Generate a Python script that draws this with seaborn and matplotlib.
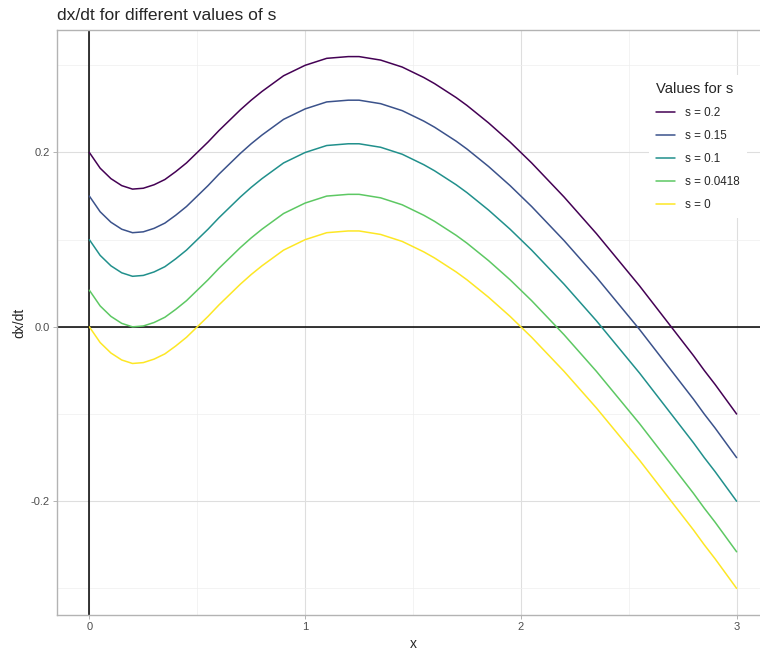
import pandas as pd
import matplotlib.pyplot as plt
import seaborn as sns
from matplotlib.ticker import MultipleLocator

# values (x step 0.05)
x_vals = [0.00, 0.05, 0.10, 0.15, 0.20, 0.25, 0.30, 0.35, 0.40, 0.45,
          0.50, 0.55, 0.60, 0.65, 0.70, 0.75, 0.80, 0.85, 0.90, 0.95,
          1.00, 1.05, 1.10, 1.15, 1.20, 1.25, 1.30, 1.35, 1.40, 1.45,
          1.50, 1.55, 1.60, 1.65, 1.70, 1.75, 1.80, 1.85, 1.90, 1.95,
          2.00, 2.05, 2.10, 2.15, 2.20, 2.25, 2.30, 2.35, 2.40, 2.45,
          2.50, 2.55, 2.60, 2.65, 2.70, 2.75, 2.80, 2.85, 2.90, 2.95, 3.00]
s_02 = [0.200, 0.182, 0.170, 0.162, 0.158, 0.159, 0.163, 0.169, 0.178, 0.188,
        0.200, 0.212, 0.225, 0.237, 0.249, 0.260, 0.270, 0.279, 0.288, 0.294,
        0.300, 0.304, 0.308, 0.309, 0.310, 0.310, 0.308, 0.306, 0.302, 0.298,
        0.292, 0.286, 0.279, 0.271, 0.263, 0.254, 0.244, 0.234, 0.223, 0.212,
        0.200, 0.188, 0.175, 0.162, 0.149, 0.135, 0.121, 0.107, 0.092, 0.077,
        0.062, 0.047, 0.031, 0.015, -0.001, -0.017, -0.033, -0.050, -0.066, -0.083, -0.100]
s_015 = [0.150, 0.132, 0.120, 0.112, 0.108, 0.109, 0.113, 0.119, 0.128, 0.138,
         0.150, 0.162, 0.175, 0.187, 0.199, 0.210, 0.220, 0.229, 0.238, 0.244,
         0.250, 0.254, 0.258, 0.259, 0.260, 0.260, 0.258, 0.256, 0.252, 0.248,
         0.242, 0.236, 0.229, 0.221, 0.213, 0.204, 0.194, 0.184, 0.173, 0.162,
         0.150, 0.138, 0.125, 0.112, 0.099, 0.085, 0.071, 0.057, 0.042, 0.027,
         0.012, -0.003, -0.019, -0.035, -0.051, -0.067, -0.083, -0.100, -0.116, -0.133, -0.150]
s_01 = [0.100, 0.082, 0.070, 0.062, 0.058, 0.059, 0.063, 0.069, 0.078, 0.088,
        0.100, 0.112, 0.125, 0.137, 0.149, 0.160, 0.170, 0.179, 0.188, 0.194,
        0.200, 0.204, 0.208, 0.209, 0.210, 0.210, 0.208, 0.206, 0.202, 0.198,
        0.192, 0.186, 0.179, 0.171, 0.163, 0.154, 0.144, 0.134, 0.123, 0.112,
        0.100, 0.088, 0.075, 0.062, 0.049, 0.035, 0.021, 0.007, -0.008, -0.023,
        -0.038, -0.053, -0.069, -0.085, -0.101, -0.117, -0.133, -0.150, -0.166, -0.183, -0.200]
s_00418 = [0.042, 0.024, 0.012, 0.004, 0.000, 0.001, 0.005, 0.011, 0.020, 0.030,
           0.042, 0.054, 0.067, 0.079, 0.091, 0.102, 0.112, 0.121, 0.130, 0.136,
           0.142, 0.146, 0.150, 0.151, 0.152, 0.152, 0.150, 0.148, 0.144, 0.140,
           0.134, 0.128, 0.121, 0.113, 0.105, 0.096, 0.086, 0.076, 0.065, 0.054,
           0.042, 0.030, 0.017, 0.004, -0.009, -0.023, -0.037, -0.051, -0.066, -0.081,
           -0.096, -0.111, -0.127, -0.143, -0.159, -0.175, -0.191, -0.208, -0.224, -0.241, -0.258]
s_0 = [0.000, -0.018, -0.030, -0.038, -0.042, -0.041, -0.037, -0.031, -0.022, -0.012,
       0.000, 0.012, 0.025, 0.037, 0.049, 0.060, 0.070, 0.079, 0.088, 0.094,
       0.100, 0.104, 0.108, 0.109, 0.110, 0.110, 0.108, 0.106, 0.102, 0.098,
       0.092, 0.086, 0.079, 0.071, 0.063, 0.054, 0.044, 0.034, 0.023, 0.012,
       0.000, -0.012, -0.025, -0.038, -0.051, -0.065, -0.079, -0.093, -0.108, -0.123,
       -0.138, -0.153, -0.169, -0.185, -0.201, -0.217, -0.233, -0.250, -0.266, -0.283, -0.300]

labels = ["s = 0.2", "s = 0.15", "s = 0.1", "s = 0.0418", "s = 0"]
series = [s_02, s_015, s_01, s_00418, s_0]
colors = ["#440154", "#3B528B", "#21908C", "#5DC863", "#FDE725"]

df = pd.concat(
    [pd.DataFrame({"x": x_vals, "dxdt": ys, "s": lab}) for lab, ys in zip(labels, series)]
)

sns.set_style("white")
plt.rcParams["font.family"] = ["Liberation Sans", "DejaVu Sans"]
plt.rcParams["axes.unicode_minus"] = False

fig = plt.figure(figsize=(7.6, 6.53), dpi=100)
ax = fig.add_axes([57 / 760, 38 / 653, 712 / 760, 585 / 653])

ax.xaxis.set_major_locator(MultipleLocator(1))
ax.xaxis.set_minor_locator(MultipleLocator(0.5))
ax.yaxis.set_major_locator(MultipleLocator(0.2))
ax.yaxis.set_minor_locator(MultipleLocator(0.1))
ax.grid(which="major", color="#DEDEDE", lw=0.8, zorder=0)
ax.grid(which="minor", color="#EEEEEE", lw=0.5, zorder=0)
ax.set_axisbelow(True)

ax.axhline(0, color="black", lw=1.1, zorder=1)
ax.axvline(0, color="black", lw=1.1, zorder=1)

sns.lineplot(data=df, x="x", y="dxdt", hue="s", hue_order=labels,
             palette=colors, lw=1.1, ax=ax, sort=False, zorder=2)

ax.set_xlim(-0.15, 3.15)
ax.set_ylim(-0.3305, 0.3405)
ax.set_xticks([0, 1, 2, 3])
ax.set_xticklabels(["0", "1", "2", "3"])
ax.set_yticks([-0.2, 0.0, 0.2])
ax.set_yticklabels(["-0.2", "0.0", "0.2"])
ax.tick_params(which="major", length=3, width=0.7, color="#B3B3B3",
               labelsize=8, labelcolor="#4D4D4D", pad=2, bottom=True, left=True)
ax.tick_params(which="minor", length=0)
for sp in ax.spines.values():
    sp.set_color("#B3B3B3")
    sp.set_linewidth(1.0)

ax.set_xlabel("x", fontsize=10, labelpad=4)
ax.set_ylabel("dx/dt", fontsize=10, labelpad=3)

handles, labs = ax.get_legend_handles_labels()
leg = ax.legend(handles, labs, title="Values for s", loc="upper left",
                bbox_to_anchor=(643 / 760, 1 - 69 / 653), bbox_transform=fig.transFigure,
                frameon=True, fancybox=False, facecolor="white", edgecolor="none",
                framealpha=1, fontsize=8.4, title_fontsize=10.6, handlelength=1.65,
                handletextpad=0.85, labelspacing=0.95, borderpad=0.6,
                alignment="left")
for line in leg.get_lines():
    line.set_linewidth(1.1)

fig.text(57 / 760, 1 - 19.5 / 653, "dx/dt for different values of s",
         fontsize=12.6, va="baseline", ha="left")

fig.savefig("out.png", dpi=100)
